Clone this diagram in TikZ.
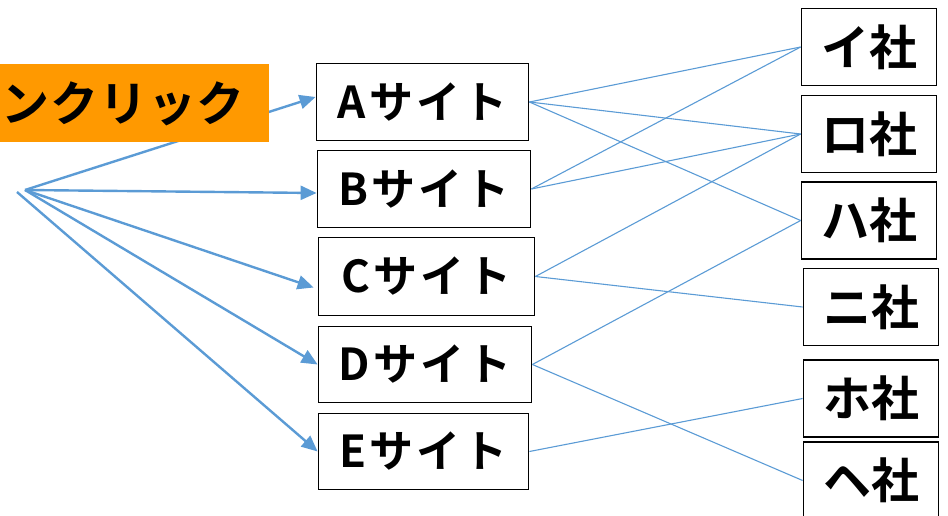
\documentclass[tikz,border=0pt]{standalone}
\usepackage{fontspec}
\setmainfont{Noto Sans CJK JP}[BoldFont={Noto Sans CJK JP Bold}]
\newfontfamily\spacedfont{Noto Sans CJK JP Bold}[LetterSpace=7]
\newfontfamily\orangefont{Noto Sans CJK JP Bold}[LetterSpace=2]
\usetikzlibrary{arrows.meta,calc}
\definecolor{lblue}{HTML}{5B9BD5}
\definecolor{orng}{HTML}{FF9900}
\tikzset{
  box/.style={draw=black,line width=1.8pt,inner sep=0pt},
  sitebox/.style={box,font=\spacedfont\fontsize{44}{44}\selectfont},
  cobox/.style={box,minimum width=135pt,minimum height=77pt,font=\fontsize{48}{48}\selectfont\bfseries},
  bigarrow/.style={draw=lblue,line width=2.4pt,-{Triangle[length=16pt,width=14pt]}},
  link/.style={draw=lblue,line width=1.1pt},
}
\begin{document}
\begin{tikzpicture}[x=1pt,y=-1pt]
\useasboundingbox (0,0) rectangle (948,516);
\clip (0,0) rectangle (948,516);
% site boxes
\node[sitebox,minimum width=212pt,minimum height=77pt] (A) at (422.5,102) {Aサイト};
\node[sitebox,minimum width=213pt,minimum height=77pt] (B) at (424,189) {Bサイト};
\node[sitebox,minimum width=216pt,minimum height=78pt] (C) at (426.5,276.5) {Cサイト};
\node[sitebox,minimum width=213pt,minimum height=76pt] (D) at (425,364.5) {Dサイト};
\node[sitebox,minimum width=210pt,minimum height=76pt] (E) at (423.5,451.5) {Eサイト};
% company boxes
\node[cobox] (i) at (869,47) {イ社};
\node[cobox] (ro) at (869,134) {ロ社};
\node[cobox] (ha) at (869,220.5) {ハ社};
\node[cobox] (ni) at (871,307) {ニ社};
\node[cobox] (ho) at (871,398.5) {ホ社};
\node[cobox] (he) at (871,480.5) {ヘ社};
% origin points
\coordinate (o1) at (25,190);
\coordinate (o2) at (17,192);
% big arrows
\draw[bigarrow] (o1) -- ([yshift=5pt]A.west);
\draw[bigarrow] (o1) -- ([yshift=-4pt]B.west);
\draw[bigarrow] (o1) -- ([xshift=-4pt,yshift=-11pt]C.west);
\draw[bigarrow] (o1) -- (D.west);
\draw[bigarrow] (o2) -- (E.west);
% orange label
\fill[orng] (-20,64) rectangle (269,142);
\node[anchor=west,inner sep=0pt,font=\orangefont\fontsize{48}{48}\selectfont] (lbl) at (1,104) {ンクリック};
% links
\draw[link] (A.east) -- (i.west);
\draw[link] (A.east) -- (ro.west);
\draw[link] (A.east) -- (ha.west);
\draw[link] (B.east) -- (i.west);
\draw[link] (B.east) -- (ro.west);
\draw[link] (C.east) -- (ro.west);
\draw[link] (C.east) -- (ni.west);
\draw[link] (D.east) -- (ha.west);
\draw[link] (D.east) -- (he.west);
\draw[link] (E.east) -- (ho.west);
\end{tikzpicture}
\end{document}
